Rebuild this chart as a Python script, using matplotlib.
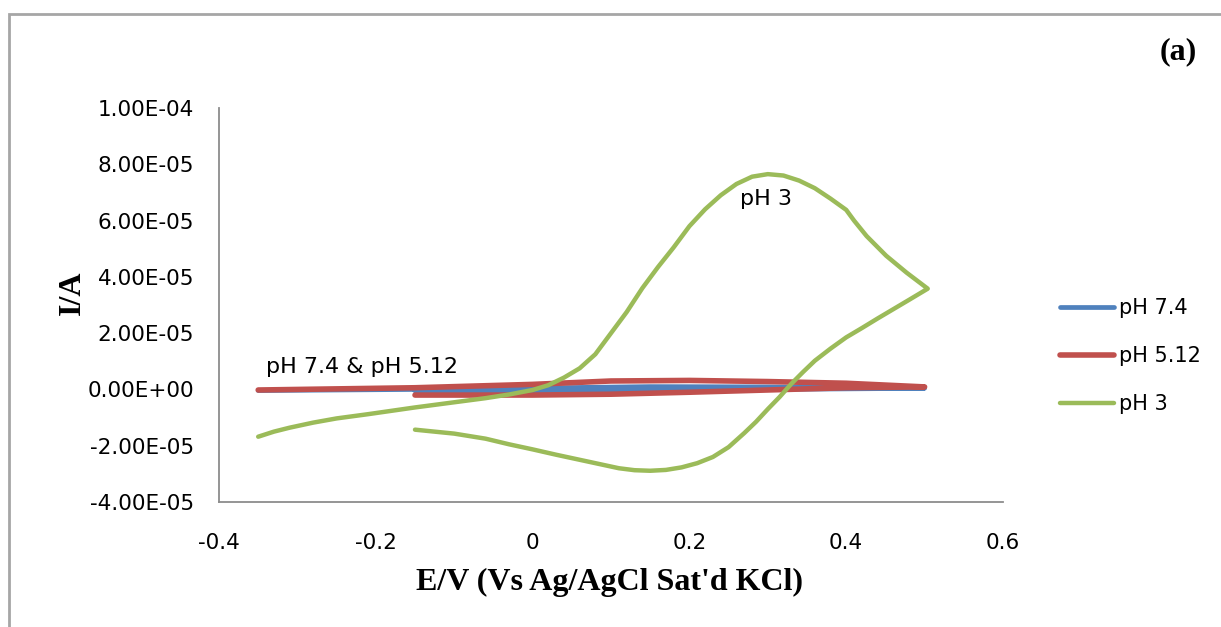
import matplotlib
matplotlib.use("Agg")
import matplotlib.pyplot as plt
from matplotlib.patches import Rectangle

# cyclic voltammograms, E in V, I in A
e_ph3 = [-0.35, -0.33, -0.31, -0.28, -0.25, -0.21, -0.18, -0.15, -0.12, -0.09,
         -0.06, -0.03, 0.0, 0.02, 0.04, 0.06, 0.08, 0.10, 0.12, 0.14, 0.16,
         0.18, 0.20, 0.22, 0.24, 0.26, 0.28, 0.30, 0.32, 0.34, 0.36, 0.38,
         0.40, 0.41, 0.426, 0.451, 0.477, 0.504,
         0.48, 0.46, 0.44, 0.42, 0.40, 0.38, 0.36, 0.345, 0.33, 0.315, 0.30,
         0.285, 0.27, 0.25, 0.23, 0.21, 0.19, 0.17, 0.15, 0.13, 0.11, 0.09,
         0.06, 0.03, 0.0, -0.03, -0.06, -0.10, -0.15]
i_ph3 = [-1.68e-5, -1.50e-5, -1.36e-5, -1.18e-5, -1.03e-5, -0.88e-5, -0.76e-5,
         -0.64e-5, -0.53e-5, -0.42e-5, -0.31e-5, -0.18e-5, -0.02e-5, 0.15e-5,
         0.42e-5, 0.75e-5, 1.25e-5, 2.0e-5, 2.75e-5, 3.6e-5, 4.35e-5, 5.05e-5,
         5.8e-5, 6.4e-5, 6.9e-5, 7.3e-5, 7.56e-5, 7.65e-5, 7.6e-5, 7.42e-5,
         7.15e-5, 6.78e-5, 6.38e-5, 6.0e-5, 5.45e-5, 4.75e-5, 4.15e-5, 3.58e-5,
         3.18e-5, 2.85e-5, 2.52e-5, 2.18e-5, 1.85e-5, 1.45e-5, 1.02e-5, 0.62e-5,
         0.2e-5, -0.27e-5, -0.7e-5, -1.15e-5, -1.55e-5, -2.05e-5, -2.4e-5,
         -2.62e-5, -2.77e-5, -2.86e-5, -2.89e-5, -2.87e-5, -2.8e-5, -2.68e-5,
         -2.5e-5, -2.32e-5, -2.13e-5, -1.95e-5, -1.75e-5, -1.57e-5, -1.43e-5]

e_ph512 = [-0.35, -0.15, 0.0, 0.1, 0.2, 0.3, 0.4, 0.5,
           0.4, 0.3, 0.2, 0.1, 0.0, -0.15]
i_ph512 = [-0.02e-5, 0.06e-5, 0.18e-5, 0.3e-5, 0.32e-5, 0.28e-5, 0.22e-5, 0.09e-5,
           0.06e-5, -0.02e-5, -0.1e-5, -0.17e-5, -0.2e-5, -0.2e-5]

e_ph74 = [-0.35, -0.15, 0.0, 0.15, 0.3, 0.5,
          0.3, 0.1, -0.15]
i_ph74 = [-0.04e-5, 0.0, 0.05e-5, 0.1e-5, 0.09e-5, 0.04e-5,
          0.0, -0.04e-5, -0.05e-5]

x_ticks = [-0.4, -0.2, 0, 0.2, 0.4, 0.6]
x_labels = ["-0.4", "-0.2", "0", "0.2", "0.4", "0.6"]
y_ticks = [-4e-5, -2e-5, 0, 2e-5, 4e-5, 6e-5, 8e-5, 1e-4]

blue = "#4F81BD"
red = "#C0504D"
green = "#9BBB59"

fig = plt.figure(figsize=(12.21, 6.27), dpi=100)
ax = fig.add_axes([219 / 1221, (627 - 502) / 627, 784 / 1221, 394 / 627])

ax.plot(e_ph74, i_ph74, color=blue, lw=3.4, label="pH 7.4",
        solid_capstyle="round", solid_joinstyle="round")
ax.plot(e_ph512, i_ph512, color=red, lw=4.0, label="pH 5.12",
        solid_capstyle="round", solid_joinstyle="round")
ax.plot(e_ph3, i_ph3, color=green, lw=3.2, label="pH 3",
        solid_capstyle="round", solid_joinstyle="round")

ax.set_xlim(-0.4, 0.6)
ax.set_ylim(-4e-5, 1e-4)
ax.set_xticks(x_ticks)
ax.set_xticklabels(x_labels)
ax.set_yticks(y_ticks)
ax.set_yticklabels(["%.2E" % v for v in y_ticks])
ax.tick_params(axis="y", length=0, pad=18, labelsize=15.5)
ax.tick_params(axis="x", length=0, pad=22, labelsize=15.5)

for s in ["top", "right"]:
    ax.spines[s].set_visible(False)
for s in ["left", "bottom"]:
    ax.spines[s].set_color("#8c8c8c")
    ax.spines[s].set_linewidth(1.3)

ax.text(-0.34, 0.78e-5, "pH 7.4 & pH 5.12", fontsize=16, va="center", ha="left")
ax.text(0.264, 6.76e-5, "pH 3", fontsize=16, va="center", ha="left")

fig.text(609 / 1221, 1 - 582 / 627, "E/V (Vs Ag/AgCl Sat'd KCl)", family="Liberation Serif",
         weight="bold", fontsize=23, ha="center", va="center")
fig.text(72 / 1221, 1 - 293 / 627, "I/A", family="Liberation Serif", weight="bold",
         fontsize=23, ha="center", va="center", rotation=90)
fig.text(1178 / 1221, 1 - 52 / 627, "(a)", family="Liberation Serif", weight="bold",
         fontsize=23, ha="center", va="center")

ax.legend(loc="center left", bbox_to_anchor=(1060 / 1221, 1 - 356 / 627),
          bbox_transform=fig.transFigure, frameon=False, fontsize=15,
          handlelength=2.6, handletextpad=0.25, labelspacing=1.35,
          borderpad=0, borderaxespad=0)

# outer chart border (only left and top edges are inside the picture)
fig.patches.append(Rectangle((9 / 1221, -0.2), 1.2, (627 - 14) / 627 + 0.2,
                             transform=fig.transFigure, fill=False,
                             edgecolor="#a6a6a6", lw=2))

fig.savefig("out.png", dpi=100)
